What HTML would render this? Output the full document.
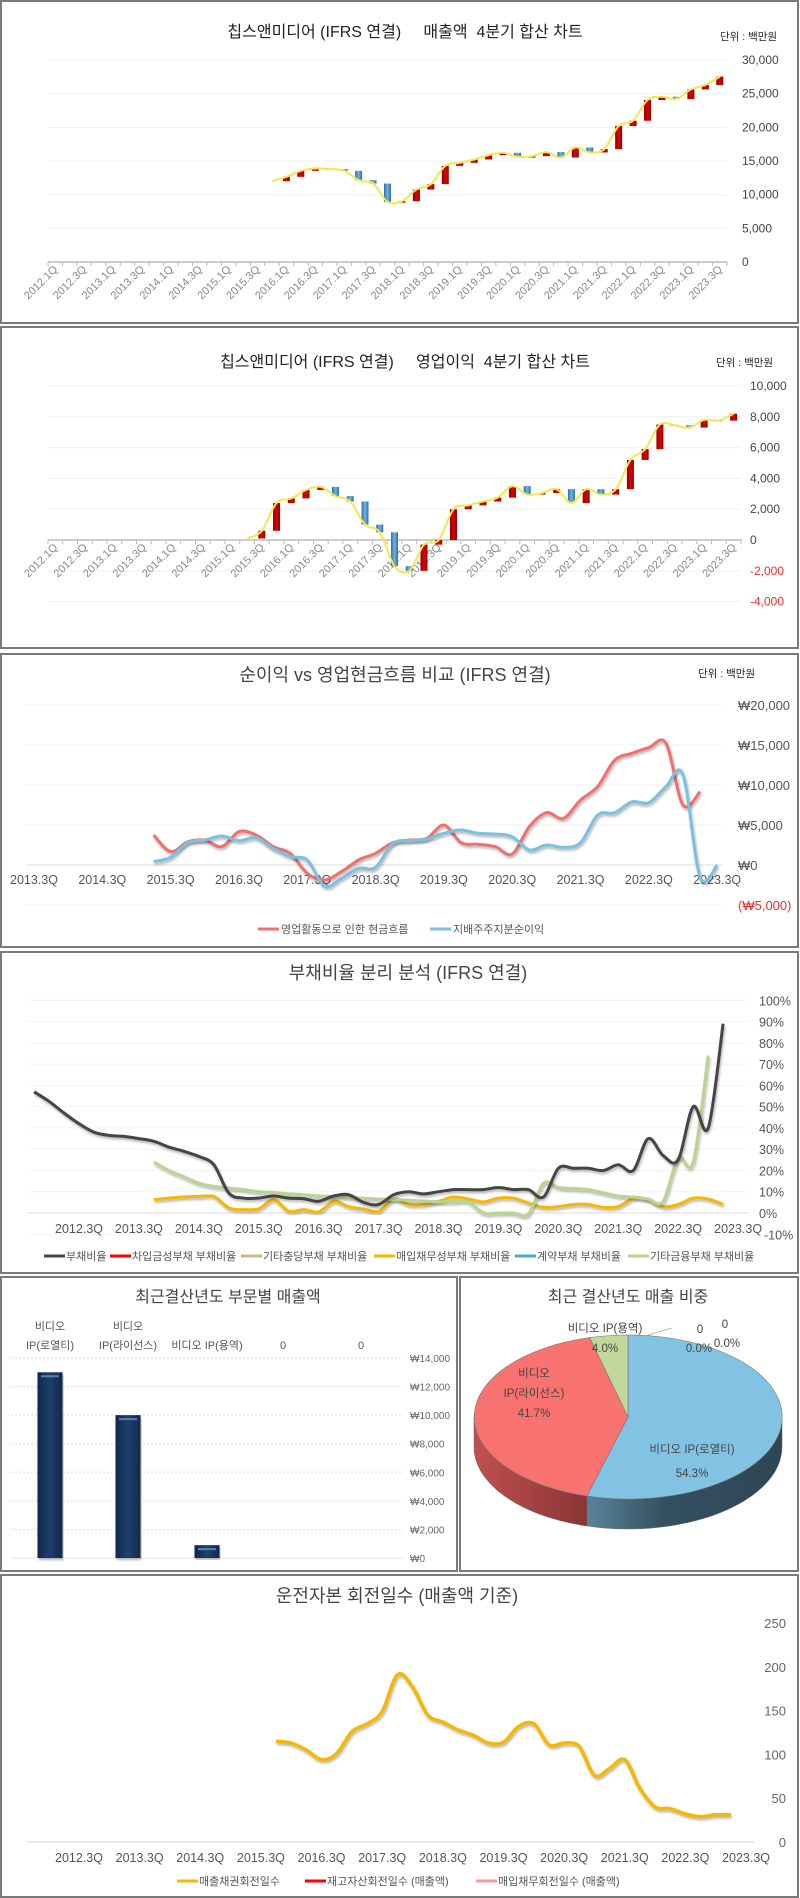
<!DOCTYPE html>
<html><head><meta charset="utf-8">
<style>
html,body{margin:0;padding:0;background:#fff;}
svg{display:block;font-family:"Liberation Sans","Noto Sans CJK KR",sans-serif;}
</style></head>
<body>
<svg id="c" width="800" height="1898" viewBox="0 0 800 1898" xmlns="http://www.w3.org/2000/svg">
<defs>
<filter id="sh" x="-5%" y="-5%" width="110%" height="120%"><feDropShadow dx="1" dy="2" stdDeviation="1.2" flood-color="#000" flood-opacity="0.3"/></filter>
<linearGradient id="redg" x1="0" x2="1"><stop offset="0" stop-color="#8a0000"/><stop offset="0.5" stop-color="#e00000"/><stop offset="1" stop-color="#900000"/></linearGradient>
<linearGradient id="blueg" x1="0" x2="1"><stop offset="0" stop-color="#2f6ea6"/><stop offset="0.5" stop-color="#6fb2e6"/><stop offset="1" stop-color="#2f6ea6"/></linearGradient>
<linearGradient id="navy" x1="0" x2="1"><stop offset="0" stop-color="#10284a"/><stop offset="0.5" stop-color="#1f3f6e"/><stop offset="1" stop-color="#10284a"/></linearGradient>
<linearGradient id="blueside" x1="0" x2="1"><stop offset="0" stop-color="#5a8399"/><stop offset="0.4" stop-color="#34505f"/><stop offset="1" stop-color="#2d4654"/></linearGradient>
<linearGradient id="redside" x1="0" x2="1"><stop offset="0" stop-color="#c05050"/><stop offset="1" stop-color="#8a3535"/></linearGradient>
</defs>
<!-- panels -->
<rect x="1" y="1" width="797" height="322" fill="none" stroke="#7a7a7a" stroke-width="2"/>
<rect x="1" y="327" width="797" height="321" fill="none" stroke="#7a7a7a" stroke-width="2"/>
<rect x="1" y="654" width="797" height="293" fill="none" stroke="#7a7a7a" stroke-width="2"/>
<rect x="1" y="952" width="797" height="321" fill="none" stroke="#7a7a7a" stroke-width="2"/>
<rect x="1" y="1277" width="456" height="294" fill="none" stroke="#7a7a7a" stroke-width="2"/>
<rect x="460" y="1277" width="338" height="294" fill="none" stroke="#7a7a7a" stroke-width="2"/>
<rect x="1" y="1575" width="797" height="322" fill="none" stroke="#7a7a7a" stroke-width="2"/>

<!-- titles -->
<text x="405" y="37" text-anchor="middle" font-size="16" fill="#222">칩스앤미디어 (IFRS 연결)&#160;&#160;&#160;&#160; 매출액&#160; 4분기 합산 차트</text>
<text x="720" y="40" font-size="10.5" fill="#222">단위 : 백만원</text>
<text x="405" y="367" text-anchor="middle" font-size="16" fill="#222">칩스앤미디어 (IFRS 연결)&#160;&#160;&#160;&#160; 영업이익&#160; 4분기 합산 차트</text>
<text x="716" y="366" font-size="10.5" fill="#222">단위 : 백만원</text>
<text x="395" y="681" text-anchor="middle" font-size="18" fill="#444">순이익 vs 영업현금흐름 비교 (IFRS 연결)</text>
<text x="698" y="677" font-size="10.5" fill="#222">단위 : 백만원</text>
<text x="408" y="979" text-anchor="middle" font-size="18" fill="#444">부채비율 분리 분석 (IFRS 연결)</text>
<text x="228" y="1302" text-anchor="middle" font-size="16" fill="#444">최근결산년도 부문별 매출액</text>
<text x="628" y="1302" text-anchor="middle" font-size="16" fill="#444">최근 결산년도 매출 비중</text>
<text x="397" y="1602" text-anchor="middle" font-size="18" fill="#444">운전자본 회전일수 (매출액 기준)</text>

<g id="g1"></g><g id="g2"></g><g id="g3"></g><g id="g4"></g><g id="g5"></g><g id="g6"></g><g id="g7"></g>
</svg>
<script>
// ---------- data ----------
const revQuarters = [];
for (let y = 2012; y <= 2023; y++) for (let q = 1; q <= 4; q++) if (!(y === 2023 && q === 4)) revQuarters.push(y + '.' + q + 'Q');
const revStart = 15;
const revValues = [12000,12650,13540,13900,13800,13540,12150,11650,8930,9030,10760,11560,14280,14730,15230,15870,16220,15620,15720,16320,15520,17010,16270,16760,20190,20980,24060,24550,24200,25640,26290,27530];
const revTicks = [0,5000,10000,15000,20000,25000,30000];

const opStart = 13;
const opValues = [100,600,2400,2700,3250,3450,2850,2500,1000,500,-1700,-2000,-300,0,2000,2250,2500,2750,3500,2950,3050,3300,2400,3300,2950,3300,5200,5900,7500,7450,7300,7800,7750,8200];
const opTicks = [-4000,-2000,0,2000,4000,6000,8000,10000];

const cfLabels = ['2013.3Q','2014.3Q','2015.3Q','2016.3Q','2017.3Q','2018.3Q','2019.3Q','2020.3Q','2021.3Q','2022.3Q','2023.3Q'];
const cfStart = 7;
const cfOperating = [3750,1670,2900,3100,2300,4170,3750,2300,1460,-1040,-1875,-830,625,1460,2800,3125,3330,5000,2800,2600,2300,1375,4800,6540,5830,8125,9800,13100,13960,14670,15200,7500,9170];
const cfNetIncome = [420,960,2800,3125,3625,3040,3420,2080,1040,625,-2625,-1670,-420,-290,2700,3040,3250,3960,4375,3960,3875,3540,1875,2500,2200,2800,6250,6540,7900,7800,9800,11250,-1500,0];
const cfTicks = [-5000,0,5000,10000,15000,20000];

const debtLabels = ['2012.3Q','2013.3Q','2014.3Q','2015.3Q','2016.3Q','2017.3Q','2018.3Q','2019.3Q','2020.3Q','2021.3Q','2022.3Q','2023.3Q'];
const debtTotalStart = -3;
const debtTotal = [57,52.5,47,42,38,36.5,36,35,33.7,31,29,26.6,22.7,9.4,7,7,8,7,6.7,5.5,8,8.6,5,4,8.6,10,9,10,11,11,11,12,11,11,7.5,21,21,21,20,22.7,20,35,27,25,50,40,89];
const debtOtherFinStart = 5;
const debtOtherFin = [24,20,17,14,12.5,11.7,11,10,9.7,9,8.6,8,7.8,7.4,6.9,6.6,6.3,6,5.6,5.3,5.2,5.2,0,0,0,-0.5,14,12,11.5,11,9.5,8,7.5,6.6,5.5,26,24,74];
const debtPayableStart = 5;
const debtPayable = [6.3,7,7.5,7.8,7.8,2.4,1.6,2,6.3,0.8,1.6,0.5,5.5,3,1.9,0.8,6.6,4,4,5.5,7.5,6.6,5.2,7,7,4.7,2.7,3,4,4,2.7,3,7,6.3,3,4,7,6.6,4];
const debtTicks = [-10,0,10,20,30,40,50,60,70,80,90,100];

const segNames = ['비디오 IP(로열티)','비디오 IP(라이선스)','비디오 IP(용역)','0','0'];
const segValues = [13000,10000,900,0,0];
const segTicks = [0,2000,4000,6000,8000,10000,12000,14000];
const pieShares = [54.3,41.7,4.0];

const toLabels = ['2012.3Q','2013.3Q','2014.3Q','2015.3Q','2016.3Q','2017.3Q','2018.3Q','2019.3Q','2020.3Q','2021.3Q','2022.3Q','2023.3Q'];
const toStart = 13;
const toReceivable = [115,113,105,94,101,126,135,149,191,177,145,137,128,122,113,114,132,135,111,113,109,76,84,94,61,40,38,32,29,31,31];
const toTicks = [0,50,100,150,200,250];

// ---------- helpers ----------
const NS = 'http://www.w3.org/2000/svg';
function mk(parent, tag, attrs, txt) {
  const e = document.createElementNS(NS, tag);
  for (const k in attrs) e.setAttribute(k, attrs[k]);
  if (txt !== undefined) e.textContent = txt;
  parent.appendChild(e);
  return e;
}
function smooth(pts) {
  if (pts.length < 2) return '';
  let d = 'M' + pts[0][0].toFixed(1) + ',' + pts[0][1].toFixed(1);
  for (let i = 0; i < pts.length - 1; i++) {
    const p0 = pts[i - 1] || pts[i], p1 = pts[i], p2 = pts[i + 1], p3 = pts[i + 2] || p2;
    const c1x = p1[0] + (p2[0] - p0[0]) / 6, c1y = p1[1] + (p2[1] - p0[1]) / 6;
    const c2x = p2[0] - (p3[0] - p1[0]) / 6, c2y = p2[1] - (p3[1] - p1[1]) / 6;
    d += ' C' + c1x.toFixed(1) + ',' + c1y.toFixed(1) + ' ' + c2x.toFixed(1) + ',' + c2y.toFixed(1) + ' ' + p2[0].toFixed(1) + ',' + p2[1].toFixed(1);
  }
  return d;
}
function fmt(v) { return Math.abs(v).toLocaleString('en-US'); }

// ---------- chart 1: revenue ----------
(function () {
  const g = document.getElementById('g1');
  const x0 = 48, x1 = 727, yz = 262, yt = 60, vmax = 30000;
  const n = revQuarters.length, w = (x1 - x0) / n;
  const X = i => x0 + (i + 0.5) * w;
  const Y = v => yz - v / vmax * (yz - yt);
  revTicks.forEach(t => {
    const l = mk(g, 'line', {x1: x0, x2: x1, y1: Y(t), y2: Y(t), stroke: t === 0 ? '#bbb' : '#f0f0f0', 'stroke-width': t === 0 ? 1.5 : 1});
    
    
    const tx = mk(g, 'text', {x: 742, y: Y(t) + 4, 'font-size': 12, fill: '#444'}, fmt(t));
    
    
  });
  for (let i = 0; i <= n; i++) mk(g, 'line', {x1: x0 + i * w, x2: x0 + i * w, y1: yz, y2: yz + 4, stroke: '#bbb'});
  revQuarters.forEach((q, i) => {
    if (i % 2) return;
    const tx = mk(g, 'text', {x: X(i) + 3, y: yz + 8, 'font-size': 11, fill: '#888', 'text-anchor': 'end', transform: 'rotate(-45 ' + (X(i) + 3) + ' ' + (yz + 8) + ')'}, q);
    
    
  });
  for (let k = 1; k < revValues.length; k++) {
    const a = revValues[k - 1], b = revValues[k], i = revStart + k;
    const up = b >= a;
    const r = mk(g, 'rect', {x: X(i) - 3.5, y: Math.min(Y(a), Y(b)), width: 7, height: Math.max(1.5, Math.abs(Y(a) - Y(b))), fill: up ? 'url(#redg)' : 'url(#blueg)'});
    
    
  }
  const p = mk(g, 'path', {d: smooth(revValues.map((v, k) => [X(revStart + k), Y(v)])), fill: 'none', stroke: '#f2e84a', 'stroke-width': 2});
  
  
})();

// ---------- chart 2: operating income ----------
(function () {
  const g = document.getElementById('g2');
  const x0 = 48, x1 = 741, yz = 540, per = 15.4 / 1000;
  const n = revQuarters.length, w = (x1 - x0) / n;
  const X = i => x0 + (i + 0.5) * w;
  const Y = v => yz - v * per;
  opTicks.forEach(t => {
    const l = mk(g, 'line', {x1: x0, x2: x1, y1: Y(t), y2: Y(t), stroke: t === 0 ? '#bbb' : '#f0f0f0', 'stroke-width': t === 0 ? 1.5 : 1});
    
    
    const tx = mk(g, 'text', {x: 750, y: Y(t) + 4, 'font-size': 12, fill: t < 0 ? '#e53030' : '#444'}, (t < 0 ? '-' : '') + fmt(t));
    
    
  });
  for (let i = 0; i <= n; i++) mk(g, 'line', {x1: x0 + i * w, x2: x0 + i * w, y1: yz, y2: yz + 4, stroke: '#bbb'});
  revQuarters.forEach((q, i) => {
    if (i % 2) return;
    const tx = mk(g, 'text', {x: X(i) + 3, y: yz + 8, 'font-size': 11, fill: '#888', 'text-anchor': 'end', transform: 'rotate(-45 ' + (X(i) + 3) + ' ' + (yz + 8) + ')'}, q);
    
    
  });
  for (let k = 1; k < opValues.length; k++) {
    const a = opValues[k - 1], b = opValues[k], i = opStart + k;
    const up = b >= a;
    const r = mk(g, 'rect', {x: X(i) - 3.5, y: Math.min(Y(a), Y(b)), width: 7, height: Math.max(1.5, Math.abs(Y(a) - Y(b))), fill: up ? 'url(#redg)' : 'url(#blueg)'});
    
    
  }
  const p = mk(g, 'path', {d: smooth(opValues.map((v, k) => [X(opStart + k), Y(v)])), fill: 'none', stroke: '#f2e84a', 'stroke-width': 2});
  
  
})();

// ---------- chart 3: cash flow vs net income ----------
(function () {
  const g = document.getElementById('g3');
  const x0 = 26, x1 = 723, yz = 865, per = 40 / 5000, step = 17.08, xs = 34;
  const X = i => xs + i * step;
  const Y = v => yz - v * per;
  cfTicks.forEach(t => {
    const l = mk(g, 'line', {x1: x0, x2: x1, y1: Y(t), y2: Y(t), stroke: t === 0 ? '#ddd' : '#f2f2f2', 'stroke-width': 1});
    
    
    const tx = mk(g, 'text', {x: 738, y: Y(t) + 5, 'font-size': 13, fill: t < 0 ? '#e53030' : '#555'}, t < 0 ? '(₩' + fmt(t) + ')' : '₩' + fmt(t));
    
    
  });
  cfLabels.forEach((lab, k) => {
    const tx = mk(g, 'text', {x: X(k * 4), y: 884, 'font-size': 12.5, fill: '#555', 'text-anchor': 'middle'}, lab);
    
    
  });
  const p1 = mk(g, 'path', {d: smooth(cfOperating.map((v, k) => [X(cfStart + k), Y(v)])), fill: 'none', stroke: '#f07070', 'stroke-width': 3, filter: 'url(#sh)'});
  
  
  const p2 = mk(g, 'path', {d: smooth(cfNetIncome.map((v, k) => [X(cfStart + k), Y(v)])), fill: 'none', stroke: '#7cc0e0', 'stroke-width': 3, filter: 'url(#sh)'});
  
  
  const l1 = mk(g, 'line', {x1: 258, x2: 279, y1: 929, y2: 929, stroke: '#f07070', 'stroke-width': 3});
  
  
  const t1 = mk(g, 'text', {x: 281, y: 933, 'font-size': 11, fill: '#555'}, '영업활동으로 인한 현금흐름');
  
  
  const l2 = mk(g, 'line', {x1: 430, x2: 451, y1: 929, y2: 929, stroke: '#7cc0e0', 'stroke-width': 3});
  
  
  const t2 = mk(g, 'text', {x: 453, y: 933, 'font-size': 11, fill: '#555'}, '지배주주지분순이익');
  
  
})();

// ---------- chart 4: debt ratio ----------
(function () {
  const g = document.getElementById('g4');
  const x0 = 27, x1 = 749, yz = 1213, per = 21.27 / 10, step = 14.98, xs = 79;
  const X = i => xs + i * step;
  const Y = v => yz - v * per;
  debtTicks.forEach(t => {
    const l = mk(g, 'line', {x1: x0, x2: x1, y1: Y(t), y2: Y(t), stroke: t === 0 ? '#ddd' : '#f3f3f3', 'stroke-width': 1});
    
    
    const tx = mk(g, 'text', {x: t < 0 ? 764 : 759, y: Y(t) + 5, 'font-size': 12.5, fill: '#555'}, t + '%');
    
    
  });
  debtLabels.forEach((lab, k) => {
    const tx = mk(g, 'text', {x: X(k * 4), y: 1233, 'font-size': 12.5, fill: '#555', 'text-anchor': 'middle'}, lab);
    
    
  });
  const a = mk(g, 'path', {d: smooth(debtPayable.map((v, k) => [X(debtPayableStart + k), Y(v)])), fill: 'none', stroke: '#f5b800', 'stroke-width': 3, filter: 'url(#sh)'});
  
  
  const b = mk(g, 'path', {d: smooth(debtOtherFin.map((v, k) => [X(debtOtherFinStart + k), Y(v)])), fill: 'none', stroke: '#b9d48f', 'stroke-width': 3, filter: 'url(#sh)'});
  
  
  const c = mk(g, 'path', {d: smooth(debtTotal.map((v, k) => [X(debtTotalStart + k), Y(v)])), fill: 'none', stroke: '#444', 'stroke-width': 3, filter: 'url(#sh)'});
  
  
  const leg = [[44, '#444', '부채비율'], [110, '#ff0000', '차입금성부채 부채비율'], [241, '#c8b88a', '기타충당부채 부채비율'], [374, '#f5b800', '매입채무성부채 부채비율'], [515, '#4bacc6', '계약부채 부채비율'], [628, '#b9d48f', '기타금융부채 부채비율']];
  leg.forEach(L => {
    const s = mk(g, 'line', {x1: L[0], x2: L[0] + 21, y1: 1256, y2: 1256, stroke: L[1], 'stroke-width': 3});
    
    
    const t = mk(g, 'text', {x: L[0] + 22, y: 1260, 'font-size': 11, fill: '#555'}, L[2]);
    
    
  });
})();

// ---------- chart 5: segment bars ----------
(function () {
  const g = document.getElementById('g5');
  const x0 = 11, x1 = 403, yz = 1558, per = 200 / 14000;
  const Y = v => yz - v * per;
  const cx = [50, 128, 207, 285, 363];
  segTicks.forEach(t => {
    const l = mk(g, 'line', {x1: x0, x2: x1, y1: Y(t), y2: Y(t), stroke: t === 0 ? '#e4e4e4' : '#ddd', 'stroke-width': 1, 'stroke-dasharray': t === 0 ? '' : '2,2'});
    
    
    const tx = mk(g, 'text', {x: 410, y: Y(t) + 4, 'font-size': 10, fill: '#666'}, '₩' + fmt(t));
    
    
  });
  segValues.forEach((v, i) => {
    if (v > 0) {
      const r = mk(g, 'rect', {x: cx[i] - 12.5, y: Y(v), width: 25, height: yz - Y(v), fill: 'url(#navy)', filter: 'url(#sh)'});
      
      
      mk(g, 'rect', {x: cx[i] - 9, y: Y(v) + 3, width: 18, height: 2, fill: '#5a7fb0'});
    }
    const nm = segNames[i];
    const sp = nm.indexOf(' ');
    if (i < 2) {
      const t1 = mk(g, 'text', {x: cx[i], y: 1330, 'font-size': 11, fill: '#555', 'text-anchor': 'middle'}, nm.slice(0, sp));
      
      
      const t2 = mk(g, 'text', {x: cx[i], y: 1349, 'font-size': 11, fill: '#555', 'text-anchor': 'middle'}, nm.slice(sp + 1));
      
      
    } else {
      const t = mk(g, 'text', {x: i > 2 ? cx[i] - 2 : cx[i], y: 1349, 'font-size': 11, fill: '#555', 'text-anchor': 'middle'}, nm);
      
      
    }
  });
})();

// ---------- chart 5b: pie ----------
(function () {
  const g = document.getElementById('g6');
  const cx = 628, cy = 1417, rx = 154, ry = 82, dp = 30;
  const cols = ['#82c3e3', '#f87272', '#c3d69b'];
  const sides = ['url(#blueside)', 'url(#redside)', '#8fa06a'];
  const P = (t, dy) => [cx + rx * Math.sin(t), cy - ry * Math.cos(t) + (dy || 0)];
  const tot = pieShares.reduce((a, b) => a + b, 0);
  let acc = 0;
  const ang = pieShares.map(s => { const a0 = acc; acc += s / tot * 2 * Math.PI; return [a0, acc]; });
  // sides
  ang.forEach((A, i) => {
    const a = Math.max(A[0], Math.PI / 2), b = Math.min(A[1], 3 * Math.PI / 2);
    if (b <= a) return;
    let d = '';
    const N = 40;
    for (let k = 0; k <= N; k++) { const p = P(a + (b - a) * k / N); d += (k ? 'L' : 'M') + p[0].toFixed(1) + ',' + p[1].toFixed(1); }
    for (let k = N; k >= 0; k--) { const p = P(a + (b - a) * k / N, dp); d += 'L' + p[0].toFixed(1) + ',' + p[1].toFixed(1); }
    const s = mk(g, 'path', {d: d + 'Z', fill: sides[i], stroke: '#666', 'stroke-width': 0.5});
    
    
  });
  ang.forEach((A, i) => {
    const p0 = P(A[0]), p1 = P(A[1]);
    const large = (A[1] - A[0]) > Math.PI ? 1 : 0;
    const d = 'M' + cx + ',' + cy + 'L' + p0[0].toFixed(1) + ',' + p0[1].toFixed(1) + 'A' + rx + ',' + ry + ' 0 ' + large + ' 1 ' + p1[0].toFixed(1) + ',' + p1[1].toFixed(1) + 'Z';
    const s = mk(g, 'path', {d: d, fill: cols[i], stroke: '#777', 'stroke-width': 0.6});
    
    
  });
  const labs = [
    [692, 1453, '비디오 IP(로열티)'], [692, 1477, pieShares[0].toFixed(1) + '%'],
    [534, 1377, '비디오'], [534, 1397, 'IP(라이선스)'], [534, 1417, pieShares[1].toFixed(1) + '%'],
    [605, 1352, pieShares[2].toFixed(1) + '%'], [605, 1332, '비디오 IP(용역)'],
    [700, 1333, '0'], [725, 1328, '0'], [699, 1382 - 30, '0.0%'], [727, 1347, '0.0%']
  ];
  labs.forEach(L => {
    const t = mk(g, 'text', {x: L[0], y: L[1], 'font-size': 11.5, fill: '#444', 'text-anchor': 'middle'}, L[2]);
    
    
  });
  mk(g, 'line', {x1: 645, y1: 1336, x2: 672, y2: 1328, stroke: '#aaa', 'stroke-width': 0.7});
})();

// ---------- chart 6: turnover ----------
(function () {
  const g = document.getElementById('g7');
  const x0 = 27, x1 = 754, yz = 1842, per = 219 / 250, step = 15.16, xs = 79;
  const X = i => xs + i * step;
  const Y = v => yz - v * per;
  const base = mk(g, 'line', {x1: x0, x2: x1, y1: yz, y2: yz, stroke: '#e4e4e4', 'stroke-width': 1.5});
  
  
  toTicks.forEach(t => {
    const tx = mk(g, 'text', {x: 786, y: Y(t) + 5, 'font-size': 13, fill: '#666', 'text-anchor': 'end'}, String(t));
    
    
  });
  toLabels.forEach((lab, k) => {
    const tx = mk(g, 'text', {x: X(k * 4), y: 1862, 'font-size': 12.5, fill: '#555', 'text-anchor': 'middle'}, lab);
    
    
  });
  const p = mk(g, 'path', {d: smooth(toReceivable.map((v, k) => [X(toStart + k), Y(v)])), fill: 'none', stroke: '#f5b800', 'stroke-width': 3.5, filter: 'url(#sh)'});
  
  
  const leg = [[177, '#f5b800', '매출채권회전일수'], [305, '#ff0000', '재고자산회전일수 (매출액)'], [476, '#f79a9a', '매입채무회전일수 (매출액)']];
  leg.forEach(L => {
    const s = mk(g, 'line', {x1: L[0], x2: L[0] + 21, y1: 1881, y2: 1881, stroke: L[1], 'stroke-width': 3});
    
    
    const t = mk(g, 'text', {x: L[0] + 22, y: 1885, 'font-size': 11, fill: '#555'}, L[2]);
    
    
  });
})();
</script>
</body></html>
